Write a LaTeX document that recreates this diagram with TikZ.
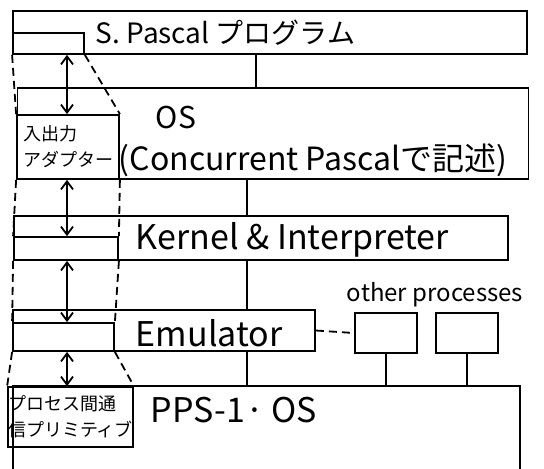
\documentclass[tikz,border=0pt]{standalone}
\usepackage{fontspec}
\setmainfont{Noto Sans CJK JP}
\usetikzlibrary{positioning, arrows.meta, calc}

\begin{document}
\begin{tikzpicture}[
    x=0.5pt, y=-0.5pt,
    line width=0.9pt,
    layer/.style={
        draw, inner sep=0pt,
        minimum width=#1
    },
    inbox/.style={
        draw, inner sep=0pt,
        align=left,
        font=\fontsize{9}{13}\selectfont
    },
    procbox/.style={
        draw, inner sep=0pt,
        minimum width=31pt,
        minimum height=20pt
    },
    lbl/.style={inner sep=0pt, anchor=west},
    twoway/.style={{Straight Barb[length=4pt,width=6pt]}-{Straight Barb[length=4pt,width=6pt]}},
    guide/.style={dash pattern=on 4pt off 2.5pt}
]
\useasboundingbox (0,0) rectangle (544,468);

% ===================== LAYERS =====================
\node[layer=257pt, minimum height=21.5pt] (spascal) at (270,32.5) {};
\node[layer=255.5pt, minimum height=45.5pt] (os) at (273,133.5) {};
\node[layer=247pt, minimum height=22pt] (kernel) at (261,238) {};
\node[layer=151pt, minimum height=20.5pt] (emulator) at (164,330.5) {};
\node[layer=252.5pt, minimum height=40.5pt, draw=none] (pps) at (266.5,427.5) {};
\draw (pps.south west) |- (pps.north east) -- (pps.south east);

% ===================== INNER BOXES (left column) =====================
\node[inbox, minimum width=35.5pt, minimum height=10.5pt] (sbox) at (48.5,43.5) {};
\node[inbox, minimum width=51pt, minimum height=32pt] (adapter) at (68,147)
{入出力\\アダプター};
\node[inbox, minimum width=52pt, minimum height=11.5pt] (kbox) at (66,248.5) {};
\node[inbox, minimum width=50.5pt, minimum height=14pt] (ebox) at (63.5,337) {};
\node[inbox, minimum width=56.5pt, minimum height=30pt] (prim) at (70.5,417)
{プロセス間通\\信プリミティブ};

% ===================== OTHER PROCESSES =====================
\node[procbox] (proc1) at (386,333) {};
\node[procbox] (proc2) at (467,333) {};
\node[font=\fontsize{12}{14}\selectfont, inner sep=0pt] (othertxt) at (435,295) {other processes};

% ===================== LABELS =====================
\node[lbl, font=\fontsize{14}{16}\selectfont] (spascaltxt) at (95,33) {S. Pascal プログラム};
\node[lbl, font=\fontsize{15}{17}\selectfont] (ostxt) at (155,117) {OS};
\node[lbl, font=\fontsize{16}{18}\selectfont] (osdesc) at (118,160) {(Concurrent Pascalで記述)};
\node[lbl, font=\fontsize{17}{19}\selectfont] (kerneltxt) at (135,240) {Kernel \& Interpreter};
\node[lbl, font=\fontsize{17}{19}\selectfont] (emulatortxt) at (135,333) {Emulator};
\node[lbl, font=\fontsize{17}{19}\selectfont] (ppstxt) at (150,410) {PPS-1· OS};

% ===================== LINKS BETWEEN LAYERS =====================
\coordinate (linkA) at (256,0);
\coordinate (linkB) at (247,0);
\coordinate (ioaxis) at (67,0);

\draw (spascal.south -| linkA) -- (os.north -| linkA);
\draw (os.south -| linkB) -- (kernel.north -| linkB);
\draw (kernel.south -| linkB) -- (emulator.north -| linkB);
\draw (emulator.south -| linkB) -- (pps.north -| linkB);
\draw (proc1.south) -- (pps.north -| proc1.south);
\draw (proc2.south) -- (pps.north -| proc2.south);
\draw[guide] (emulator.east) -- (proc1.west);

% ===================== I/O PATH =====================
\draw[twoway] (sbox.south -| ioaxis) -- (adapter.north -| ioaxis);
\draw[twoway] (adapter.south -| ioaxis) -- (kbox.north -| ioaxis);
\draw[twoway] (kbox.south -| ioaxis) -- (ebox.north -| ioaxis);
\draw[twoway] (ebox.south -| ioaxis) -- (prim.north -| ioaxis);

% dashed outlines joining the boxes
\draw[guide] (sbox.south west) -- (adapter.north west);
\draw[guide] (sbox.south east) -- (adapter.north east);
\draw[guide] (adapter.south west) -- (kbox.north west);
\draw[guide] (adapter.south east) -- (kbox.north east);
\draw[guide] (kbox.south west) -- (ebox.north west);
\draw[guide] (kbox.south east) -- (ebox.north east);
\draw[guide] (ebox.south west) -- (prim.north west);
\draw[guide] (ebox.south east) -- (prim.north east);

\end{tikzpicture}
\end{document}
